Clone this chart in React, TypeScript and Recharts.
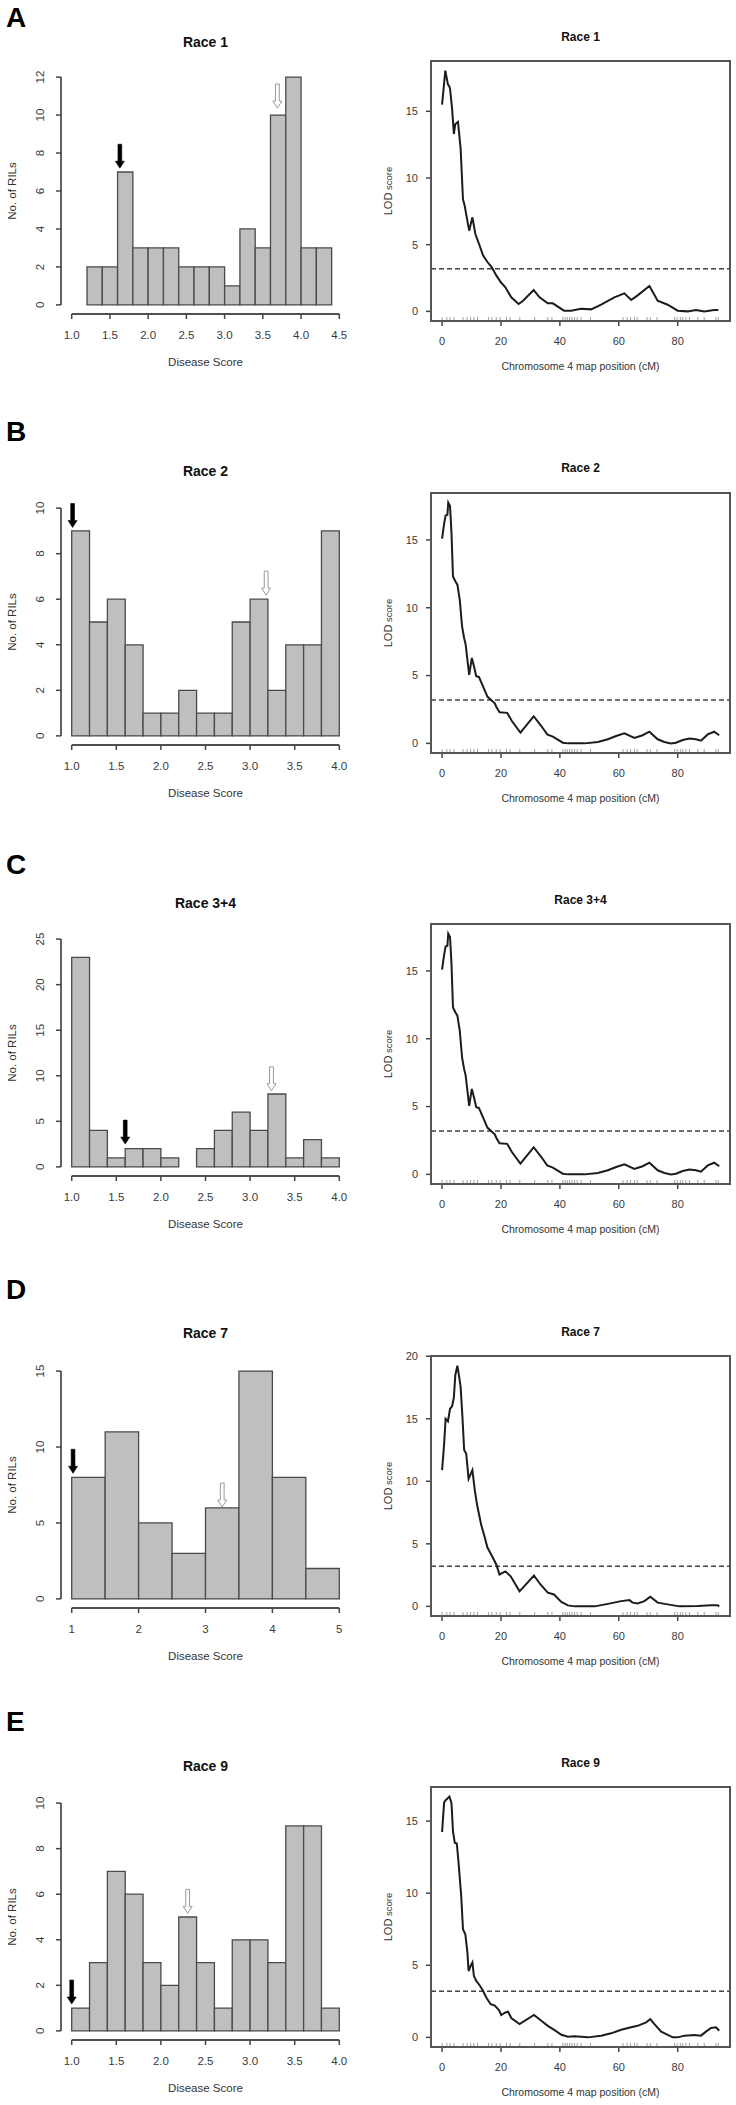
import React from 'react';
import { ComposedChart, XAxis, YAxis, ReferenceArea, ReferenceLine, Scatter, Line } from 'recharts';

const FONT = '"Liberation Sans", Arial, Helvetica, sans-serif';

// ---------- Histogram data (number of RILs per disease-score bin) ----------
const race1Counts = [2, 2, 7, 3, 3, 3, 2, 2, 2, 1, 4, 3, 10, 12, 3, 3];
const race2Counts = [9, 5, 6, 4, 1, 1, 2, 1, 1, 5, 6, 2, 4, 4, 9];
const race34Counts = [23, 4, 1, 2, 2, 1, 0, 2, 4, 6, 4, 8, 1, 3, 1];
const race7Counts = [8, 11, 5, 3, 6, 15, 8, 2];
const race9Counts = [1, 3, 7, 6, 3, 2, 5, 3, 1, 4, 4, 3, 9, 9, 1];

const ticksHalf45 = [1, 1.5, 2, 2.5, 3, 3.5, 4, 4.5];
const labelsHalf45 = ['1.0', '1.5', '2.0', '2.5', '3.0', '3.5', '4.0', '4.5'];
const ticksHalf40 = [1, 1.5, 2, 2.5, 3, 3.5, 4];
const labelsHalf40 = ['1.0', '1.5', '2.0', '2.5', '3.0', '3.5', '4.0'];
const ticksInt5 = [1, 2, 3, 4, 5];
const labelsInt5 = ['1', '2', '3', '4', '5'];

// arrows: parental lines (black = resistant, white = susceptible); tip position in data units
const arrowsBlack = [
  { x: 1.63, y: 7.2 },
  { x: 1.01, y: 9.15 },
  { x: 1.6, y: 2.5 },
  { x: 1.02, y: 8.27 },
  { x: 1.0, y: 1.18 },
];
const arrowsWhite = [
  { x: 3.69, y: 10.37 },
  { x: 3.18, y: 6.18 },
  { x: 3.24, y: 8.36 },
  { x: 3.25, y: 6.05 },
  { x: 2.3, y: 5.16 },
];

// ---------- LOD profiles along chromosome 4 (cM, LOD) ----------
const lodRace1 = [
  [0, 15.5], [1.1, 18.05], [2.0, 17.0], [2.4, 16.9], [2.7, 16.7], [3.4, 15.2], [4.0, 13.3], [4.5, 14.05],
  [5.4, 14.2], [6.3, 12.2], [7.1, 8.4], [7.7, 7.9], [8.5, 6.9], [9.2, 6.05], [10.3, 7.05], [11.3, 5.8],
  [12.8, 4.9], [13.9, 4.2], [15.4, 3.7], [16.9, 3.3], [18.4, 2.7], [19.9, 2.2], [21.5, 1.8], [23.5, 1.05],
  [26, 0.55], [27.5, 0.8], [31.1, 1.6], [33.1, 1.05], [35.9, 0.6], [37.6, 0.6], [41.4, 0.05], [43.8, 0.05],
  [47.2, 0.2], [50.6, 0.15], [54, 0.5], [58.5, 1.05], [61.9, 1.35], [64.2, 0.85], [66.4, 1.2], [70.4, 1.9],
  [73.2, 0.8], [76.6, 0.5], [80, 0.05], [83.4, 0], [86.2, 0.1], [89, 0], [92.4, 0.1], [93.8, 0.1],
];
const lodRace2 = [
  [0, 15.1], [0.7, 16.2], [1.2, 16.8], [1.8, 16.85], [2.1, 17.75], [2.7, 17.5], [3.2, 15.5], [3.7, 12.3],
  [4.5, 11.95], [5.2, 11.7], [6, 10.6], [6.8, 8.6], [7.5, 7.75], [8, 7.3], [9.2, 5.05], [10.1, 6.3],
  [10.8, 5.7], [11.6, 4.95], [12.5, 4.9], [13.9, 4.2], [15.4, 3.45], [16.9, 3.15], [17.9, 2.95], [18.4, 2.7],
  [19.5, 2.3], [22.1, 2.25], [23.7, 1.65], [26.6, 0.8], [31.1, 2.0], [33.7, 1.28], [35.7, 0.66], [37.6, 0.5],
  [41, 0.05], [42.7, 0], [48.4, 0], [52.9, 0.1], [56.3, 0.3], [59.1, 0.54], [61.9, 0.74], [65.3, 0.4],
  [68.1, 0.6], [70.4, 0.86], [73.2, 0.3], [75.5, 0.1], [77.7, 0], [79.4, 0.05], [81.7, 0.25], [84, 0.35],
  [86.2, 0.3], [87.9, 0.2], [90.2, 0.66], [92.4, 0.86], [94.1, 0.6],
];
const lodRace34 = lodRace2.map((p) => [p[0], p[1]]);
const lodRace7 = [
  [0, 10.9], [0.7, 13], [1.2, 15.0], [2, 14.8], [2.7, 15.8], [3.4, 16], [4, 16.7], [4.5, 18.5],
  [5.2, 19.25], [5.8, 18.35], [6.3, 17.55], [6.9, 15.2], [7.5, 12.5], [8.2, 12.2], [9, 10.2], [10.3, 10.9],
  [11.1, 9.3], [11.9, 8.1], [13.3, 6.5], [14.5, 5.5], [15.4, 4.7], [16.9, 4.05], [18.4, 3.35], [19.5, 2.55],
  [21.5, 2.8], [23.3, 2.4], [26.3, 1.2], [31.2, 2.47], [33.4, 1.75], [35.9, 1.1], [38, 0.95], [40.5, 0.35],
  [42.7, 0.08], [45, 0], [51.8, 0], [56.3, 0.2], [60.8, 0.42], [63.6, 0.5], [64.7, 0.3], [66.4, 0.24],
  [68.7, 0.42], [70.7, 0.77], [73.2, 0.3], [76.6, 0.16], [80.6, 0], [86.8, 0.03], [91.3, 0.08], [93.6, 0.08],
  [94.1, 0],
];
const lodRace9 = [
  [0, 14.25], [0.7, 16.3], [1.2, 16.45], [2, 16.6], [2.5, 16.7], [3.2, 16.25], [3.7, 14.3], [4.3, 13.5],
  [5, 13.45], [5.6, 12.1], [6.5, 9.8], [7.1, 7.5], [7.9, 7.15], [8.6, 5.9], [9, 4.6], [9.7, 4.95],
  [10.3, 5.2], [10.8, 4.27], [11.6, 3.92], [12.8, 3.6], [13.9, 3.23], [15, 2.77], [16.5, 2.3], [17.9, 2.2],
  [19.3, 1.9], [20.1, 1.55], [21.5, 1.73], [22.4, 1.78], [23.5, 1.34], [26.3, 0.92], [31.2, 1.55], [33.7, 1.15],
  [35.9, 0.8], [38.2, 0.5], [40.5, 0.18], [42.7, 0.05], [45, 0.07], [49.5, 0], [54, 0.12], [57.4, 0.28],
  [60.8, 0.53], [64.2, 0.7], [66.4, 0.8], [69.3, 1.04], [70.7, 1.27], [72.1, 0.92], [74.4, 0.4], [76.6, 0.18],
  [78.3, 0], [80, 0], [82.3, 0.12], [85.6, 0.16], [87.9, 0.12], [89.6, 0.4], [91.3, 0.65], [93, 0.7], [94.1, 0.46],
];

// marker positions on chromosome 4 (cM), drawn as a rug
const markerPositions = [
  0, 1.6, 2.7, 4.1, 7.1, 8.5, 9.7, 10.8, 12, 15.8, 16.9, 18.4, 19.7, 21.9, 23.1, 26.4, 31.4, 35.9, 37.3,
  41, 41.8, 42.5, 43.3, 44.1, 45, 45.9, 47.2, 50.4, 61.4, 62.8, 64, 65.3, 66.2, 69.6, 70.7, 73, 78.9, 79.8,
  80.9, 81.7, 82.8, 84, 86.8, 89, 93, 93.8,
];
const mapRange = [0, 94];
const lodThreshold = 3.2;
const lodXTicks = [0, 20, 40, 60, 80];

const panels = [
  { letter: 'A', title: 'Race 1', counts: race1Counts, binStart: 1.2, binWidth: 0.2, xlim: [1, 4.5], xticks: ticksHalf45, xlabels: labelsHalf45, ytop: 12, yticks: [0, 2, 4, 6, 8, 10, 12], lod: lodRace1, lodTicks: [0, 5, 10, 15] },
  { letter: 'B', title: 'Race 2', counts: race2Counts, binStart: 1.0, binWidth: 0.2, xlim: [1, 4], xticks: ticksHalf40, xlabels: labelsHalf40, ytop: 10, yticks: [0, 2, 4, 6, 8, 10], lod: lodRace2, lodTicks: [0, 5, 10, 15] },
  { letter: 'C', title: 'Race 3+4', counts: race34Counts, binStart: 1.0, binWidth: 0.2, xlim: [1, 4], xticks: ticksHalf40, xlabels: labelsHalf40, ytop: 25, yticks: [0, 5, 10, 15, 20, 25], lod: lodRace34, lodTicks: [0, 5, 10, 15] },
  { letter: 'D', title: 'Race 7', counts: race7Counts, binStart: 1.0, binWidth: 0.5, xlim: [1, 5], xticks: ticksInt5, xlabels: labelsInt5, ytop: 15, yticks: [0, 5, 10, 15], lod: lodRace7, lodTicks: [0, 5, 10, 15, 20] },
  { letter: 'E', title: 'Race 9', counts: race9Counts, binStart: 1.0, binWidth: 0.2, xlim: [1, 4], xticks: ticksHalf40, xlabels: labelsHalf40, ytop: 10, yticks: [0, 2, 4, 6, 8, 10], lod: lodRace9, lodTicks: [0, 5, 10, 15] },
];

// page layout (pixels)
const layout = [
  { letterY: 18, histTitleY: 42, histTop: 68, lodTitleY: 37, lodTop: 61 },
  { letterY: 432, histTitleY: 471, histTop: 498.6, lodTitleY: 468, lodTop: 493 },
  { letterY: 865, histTitleY: 903, histTop: 930, lodTitleY: 900, lodTop: 924.3 },
  { letterY: 1290, histTitleY: 1333, histTop: 1361.6, lodTitleY: 1332, lodTop: 1356 },
  { letterY: 1722, histTitleY: 1766, histTop: 1794, lodTitleY: 1763, lodTop: 1787 },
];

const HIST_H = 246;
const LOD_H = 260;
const LOD_LEFT = 63;
const LOD_W = 299;
const BOX = '#555555';
const BOX_W = 2;

function Txt({ x, y, size, bold, color = '#222', rotate, anchor = 'middle', children }: any) {
  const tx = anchor === 'middle' ? '-50%' : anchor === 'end' ? '-100%' : '0';
  return (
    <div
      style={{
        position: 'absolute',
        left: x,
        top: y,
        transform: `translate(${tx},-50%)${rotate ? ` rotate(${rotate}deg)` : ''}`,
        fontSize: size,
        fontWeight: bold ? 'bold' : 'normal',
        color,
        fontFamily: FONT,
        lineHeight: 1,
        whiteSpace: 'nowrap',
      }}
    >
      {children}
    </div>
  );
}

function arrowPoints(cx: number, cy: number) {
  const L = 24, hl = 7, hw = 4.5, sw = 1.9;
  return [
    [cx, cy], [cx - hw, cy - hl], [cx - sw, cy - hl], [cx - sw, cy - L], [cx + sw, cy - L], [cx + sw, cy - hl], [cx + hw, cy - hl],
  ].map((p) => p.join(',')).join(' ');
}

function BlackArrow(props: any) {
  const { cx, cy } = props;
  if (cx == null || cy == null) return <g />;
  return <polygon points={arrowPoints(cx, cy)} fill="#000" stroke="#000" strokeWidth={0.6} />;
}

function WhiteArrow(props: any) {
  const { cx, cy } = props;
  if (cx == null || cy == null) return <g />;
  return <polygon points={arrowPoints(cx, cy)} fill="#fff" stroke="#9a9a9a" strokeWidth={1} />;
}

function RugTick(props: any) {
  const { cx, cy } = props;
  if (cx == null || cy == null) return <g />;
  return <line x1={cx} x2={cx} y1={cy} y2={cy - 4} stroke="#a0a0a0" strokeWidth={1} />;
}

function Histogram({ p, i }: any) {
  const xs = p.xlim[1] - p.xlim[0];
  const xDomain = [p.xlim[0] - 0.04 * xs, p.xlim[1] + 0.04 * xs];
  const yDomain = [-0.04 * p.ytop, 1.04 * p.ytop];
  const bins = p.counts.map((c: number, k: number) => ({
    x0: p.binStart + k * p.binWidth,
    x1: p.binStart + (k + 1) * p.binWidth,
    c,
  }));
  const xTick = (tp: any) => {
    const idx = p.xticks.indexOf(tp.payload.value);
    return (
      <text x={tp.x} y={tp.y} textAnchor="middle" dy="0.35em" fontSize={11.5} fill="#3a3a3a" fontFamily={FONT}>
        {idx >= 0 ? p.xlabels[idx] : tp.payload.value}
      </text>
    );
  };
  const yTick = (tp: any) => (
    <text x={tp.x} y={tp.y} textAnchor="middle" dy="0.35em" fontSize={11.5} fill="#3a3a3a" fontFamily={FONT}
      transform={`rotate(-90, ${tp.x}, ${tp.y})`}>
      {tp.payload.value}
    </text>
  );
  return (
    <ComposedChart width={368} height={10 + HIST_H + 30} margin={{ top: 10, right: 18, bottom: 0, left: 0 }}>
      <XAxis type="number" dataKey="x" domain={xDomain} ticks={p.xticks} allowDataOverflow interval={0}
        axisLine={false} tickLine={{ stroke: '#444', strokeWidth: 1.5 }} tickSize={5} tickMargin={16} height={30} tick={xTick} />
      <YAxis type="number" domain={yDomain} ticks={p.yticks} allowDataOverflow interval={0}
        axisLine={false} tickLine={{ stroke: '#444', strokeWidth: 1.5 }} tickSize={5} tickMargin={16} width={61} tick={yTick} />
      {bins.map((b: any, k: number) => (
        <ReferenceArea key={k} x1={b.x0} x2={b.x1} y1={0} y2={b.c} fill="#bfbfbf" fillOpacity={1}
          stroke="#4a4a4a" strokeWidth={1.3} ifOverflow="visible" />
      ))}
      <ReferenceLine segment={[{ x: p.xlim[0], y: yDomain[0] }, { x: p.xlim[1], y: yDomain[0] }]} stroke="#505050" strokeWidth={1.8} ifOverflow="visible" />
      <ReferenceLine segment={[{ x: xDomain[0], y: 0 }, { x: xDomain[0], y: p.ytop }]} stroke="#505050" strokeWidth={1.8} ifOverflow="visible" />
      <Scatter data={[arrowsBlack[i]]} dataKey="y" shape={BlackArrow} isAnimationActive={false} />
      <Scatter data={[arrowsWhite[i]]} dataKey="y" shape={WhiteArrow} isAnimationActive={false} />
    </ComposedChart>
  );
}

function LodPlot({ p }: any) {
  const pts = p.lod.map((q: number[]) => ({ cm: q[0], lod: q[1] }));
  const vals = pts.map((q: any) => q.lod);
  const ymax = Math.max(...vals);
  const ymin = Math.min(...vals);
  const yr = ymax - ymin;
  const yDomain = [ymin - 0.04 * yr, ymax + 0.04 * yr];
  const xr = mapRange[1] - mapRange[0];
  const xDomain = [mapRange[0] - 0.04 * xr, mapRange[1] + 0.04 * xr];
  const rug = markerPositions.map((m) => ({ cm: m, y: yDomain[0] }));
  const [x0, x1] = xDomain;
  const [y0, y1] = yDomain;
  const boxSides = [
    [{ x: x0, y: y0 }, { x: x1, y: y0 }],
    [{ x: x0, y: y1 }, { x: x1, y: y1 }],
    [{ x: x0, y: y0 }, { x: x0, y: y1 }],
    [{ x: x1, y: y0 }, { x: x1, y: y1 }],
  ];
  const xTick = (tp: any) => (
    <text x={tp.x} y={tp.y} textAnchor="middle" dy="0.35em" fontSize={11} fill="#3a3a3a" fontFamily={FONT}>
      {tp.payload.value}
    </text>
  );
  const yTick = (tp: any) => (
    <text x={tp.x} y={tp.y} textAnchor="end" dy="0.35em" fontSize={11} fill="#3a3a3a" fontFamily={FONT}>
      {tp.payload.value}
    </text>
  );
  return (
    <ComposedChart width={368} height={10 + LOD_H + 30} margin={{ top: 10, right: 368 - LOD_LEFT - LOD_W, bottom: 0, left: 0 }}>
      <XAxis type="number" dataKey="cm" domain={xDomain} ticks={lodXTicks} allowDataOverflow interval={0}
        axisLine={false} tickLine={{ stroke: '#444', strokeWidth: 1.5 }} tickSize={5} tickMargin={15} height={30} tick={xTick} />
      <YAxis type="number" domain={yDomain} ticks={p.lodTicks} allowDataOverflow interval={0}
        axisLine={false} tickLine={{ stroke: '#444', strokeWidth: 1.5 }} tickSize={5} tickMargin={8} width={LOD_LEFT} tick={yTick} />
      {boxSides.map((s, k) => (
        <ReferenceLine key={k} segment={s} stroke={BOX} strokeWidth={BOX_W} ifOverflow="visible" />
      ))}
      <ReferenceLine y={lodThreshold} stroke="#444" strokeDasharray="5 3" strokeWidth={1.5} />
      <Scatter data={rug} dataKey="y" shape={RugTick} isAnimationActive={false} />
      <Line data={pts} dataKey="lod" type="linear" stroke="#1c1c1c" strokeWidth={2} dot={false}
        isAnimationActive={false} />
    </ComposedChart>
  );
}

export default function App() {
  return (
    <div style={{ position: 'absolute', left: 0, top: 0, width: 736, height: 2105, background: '#fff', overflow: 'hidden', fontFamily: FONT }}>
      {panels.map((p, i) => {
        const L = layout[i];
        const histBottom = L.histTop + HIST_H;
        const lodBottom = L.lodTop + LOD_H;
        return (
          <React.Fragment key={p.letter}>
            <Txt x={6} y={L.letterY} size={28} bold color="#000" anchor="start">{p.letter}</Txt>
            <Txt x={205.5} y={L.histTitleY} size={14} bold color="#111">{p.title}</Txt>
            <Txt x={580.5} y={L.lodTitleY} size={12} bold color="#111">{p.title}</Txt>
            <div style={{ position: 'absolute', left: 0, top: L.histTop - 10 }}>
              <Histogram p={p} i={i} />
            </div>
            <div style={{ position: 'absolute', left: 368, top: L.lodTop - 10 }}>
              <LodPlot p={p} />
            </div>
            {/* plot frame (same place as the box drawn inside the chart) */}
            <div style={{
              position: 'absolute', left: 368 + LOD_LEFT - BOX_W / 2, top: L.lodTop - BOX_W / 2,
              width: LOD_W - BOX_W, height: LOD_H - BOX_W, border: `${BOX_W}px solid ${BOX}`, pointerEvents: 'none',
            }} />
            <Txt x={13} y={L.histTop + HIST_H / 2} size={11.5} color="#333" rotate={-90}>No. of RILs</Txt>
            <Txt x={205.5} y={histBottom + 49} size={11.5} color="#333">Disease Score</Txt>
            <Txt x={388} y={L.lodTop + LOD_H / 2} size={11} color="#333" rotate={-90}>
              LOD<span style={{ fontSize: 9.5 }}> score</span>
            </Txt>
            <Txt x={580.5} y={lodBottom + 45} size={10.5} color="#333">Chromosome 4 map position (cM)</Txt>
          </React.Fragment>
        );
      })}
    </div>
  );
}
